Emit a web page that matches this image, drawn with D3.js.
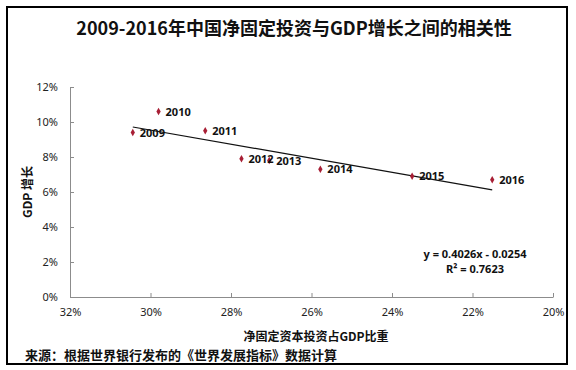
<!DOCTYPE html>
<html>
<head>
<meta charset="utf-8">
<script src="https://cdn.jsdelivr.net/npm/d3@7/dist/d3.min.js"></script>
<style>
  body { margin: 0; background: #fff; }
  svg text { font-family: "Noto Sans", "Noto Sans CJK SC", sans-serif; }
</style>
</head>
<body>
<svg id="chart" width="576" height="370"></svg>
<script>
// data
var years = ['2009', '2010', '2011', '2012', '2013', '2014', '2015', '2016'];
var investShare = [0.3044, 0.2980, 0.2864, 0.2774, 0.2705, 0.2578, 0.2350, 0.2151];
var gdpGrowth = [0.094, 0.106, 0.095, 0.079, 0.078, 0.073, 0.069, 0.067];
var slope = 0.4026, intercept = -0.0254;
var xTicks = [0.32, 0.30, 0.28, 0.26, 0.24, 0.22, 0.20];
var yTicks = [0, 0.02, 0.04, 0.06, 0.08, 0.10, 0.12];

var svg = d3.select('#chart');
var cjk = '"Noto Sans CJK SC", sans-serif';

// outer frame
svg.append('rect')
  .attr('x', 7).attr('y', 7)
  .attr('width', 560).attr('height', 357)
  .attr('fill', 'none')
  .attr('stroke', '#000')
  .attr('stroke-width', 2);

var margin = {left: 70, top: 87, right: 23, bottom: 73};
var width = 576 - margin.left - margin.right,
    height = 370 - margin.top - margin.bottom;

var g = svg.append('g')
  .attr('transform', 'translate(' + margin.left + ',' + margin.top + ')');

var x = d3.scaleLinear().domain([0.32, 0.20]).range([0, width]);
var y = d3.scaleLinear().domain([0, 0.12]).range([height, 0]);
var pct = d3.format('.0%');

// axes
var xAxis = g.append('g')
  .attr('transform', 'translate(0,' + height + ')')
  .call(d3.axisBottom(x).tickValues(xTicks).tickFormat(pct).tickSizeInner(-4).tickSizeOuter(0).tickPadding(11));
var yAxis = g.append('g')
  .call(d3.axisLeft(y).tickValues(yTicks).tickFormat(pct).tickSizeInner(-4).tickSizeOuter(0).tickPadding(12));

[xAxis, yAxis].forEach(function(a) {
  a.selectAll('path, line').attr('stroke', '#8c8c8c');
  a.selectAll('text')
    .attr('fill', '#222')
    .style('font-size', '11px');
});

// trend line
var xr = d3.extent(investShare);
g.append('line')
  .attr('x1', x(xr[1])).attr('y1', y(slope * xr[1] + intercept))
  .attr('x2', x(xr[0])).attr('y2', y(slope * xr[0] + intercept))
  .attr('stroke', '#111')
  .attr('stroke-width', 1.2);

var pts = years.map(function(yr, i) {
  return {year: yr, x: investShare[i], y: gdpGrowth[i]};
});

// diamond markers
g.selectAll('.pt')
  .data(pts)
  .enter().append('path')
  .attr('class', 'pt')
  .attr('transform', function(d) { return 'translate(' + x(d.x) + ',' + y(d.y) + ')'; })
  .attr('d', d3.symbol().type(d3.symbolDiamond).size(16))
  .attr('fill', '#a81f35');

// point labels
g.selectAll('.lbl')
  .data(pts)
  .enter().append('text')
  .attr('class', 'lbl')
  .attr('x', function(d) { return x(d.x) + 7; })
  .attr('y', function(d) { return y(d.y) + 4; })
  .style('font-size', '11px')
  .style('font-weight', 'bold')
  .attr('fill', '#111')
  .text(function(d) { return d.year; });

// equation
g.append('text')
  .attr('x', 405).attr('y', 171)
  .attr('text-anchor', 'middle')
  .style('font-size', '11px').style('font-weight', 'bold')
  .attr('fill', '#111')
  .text('y = ' + slope + 'x - ' + Math.abs(intercept));
g.append('text')
  .attr('x', 405).attr('y', 186)
  .attr('text-anchor', 'middle')
  .style('font-size', '11px').style('font-weight', 'bold')
  .attr('fill', '#111')
  .text('R² = 0.7623');

// title
svg.append('text')
  .attr('x', 294).attr('y', 35)
  .attr('text-anchor', 'middle')
  .style('font-family', cjk)
  .style('font-size', '18px').style('font-weight', 'bold')
  .attr('fill', '#111')
  .text('2009-2016年中国净固定投资与GDP增长之间的相关性');

// axis titles
svg.append('text')
  .attr('x', 316).attr('y', 341)
  .attr('text-anchor', 'middle')
  .style('font-family', cjk)
  .style('font-size', '12px').style('font-weight', 'bold')
  .attr('fill', '#111')
  .text('净固定资本投资占GDP比重');

svg.append('text')
  .attr('transform', 'translate(32,192) rotate(-90)')
  .attr('text-anchor', 'middle')
  .style('font-family', cjk)
  .style('font-size', '12px').style('font-weight', 'bold')
  .attr('fill', '#111')
  .text('GDP 增长');

// source
svg.append('text')
  .attr('x', 25).attr('y', 360)
  .style('font-family', cjk)
  .style('font-size', '13px').style('font-weight', 'bold')
  .attr('fill', '#111')
  .text('来源：根据世界银行发布的《世界发展指标》数据计算');
</script>
</body>
</html>
